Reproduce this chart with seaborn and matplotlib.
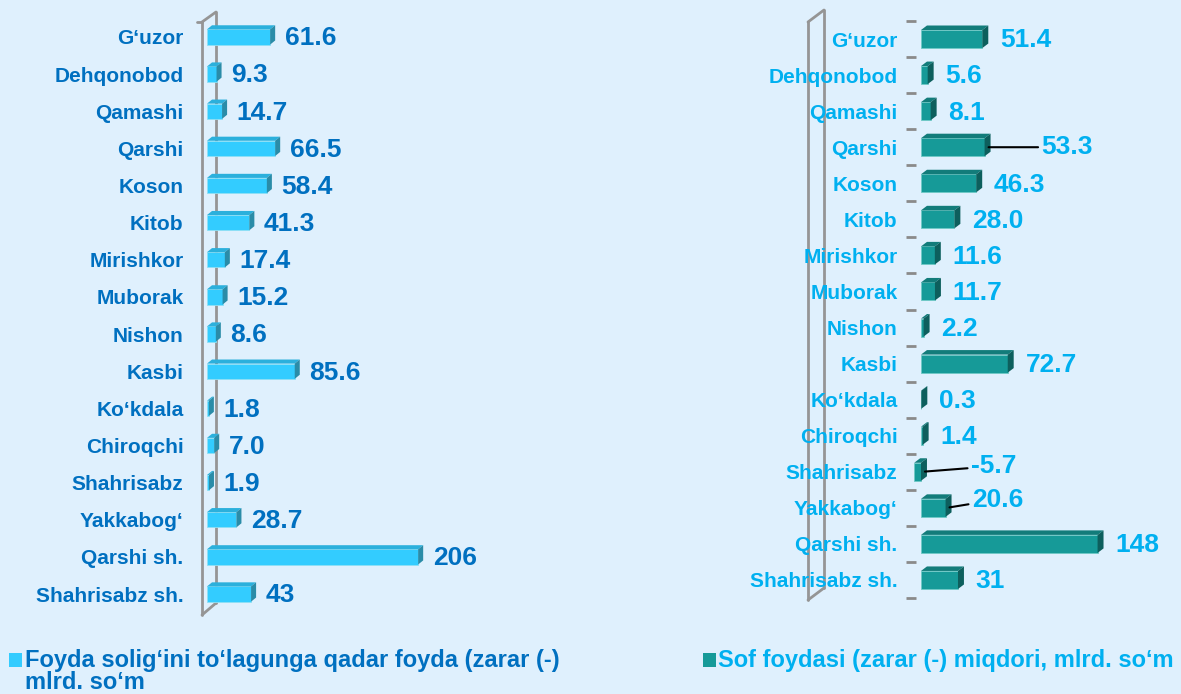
import matplotlib
matplotlib.use("Agg")
import matplotlib.pyplot as plt
from matplotlib.lines import Line2D
from matplotlib.patches import Polygon, Rectangle
import numpy as np
import pandas as pd
import seaborn as sns

districts = ["G‘uzor", "Dehqonobod", "Qamashi", "Qarshi", "Koson", "Kitob",
             "Mirishkor", "Muborak", "Nishon", "Kasbi", "Ko‘kdala", "Chiroqchi",
             "Shahrisabz", "Yakkabog‘", "Qarshi sh.", "Shahrisabz sh."]
profit_before_tax = [61.6, 9.3, 14.7, 66.5, 58.4, 41.3, 17.4, 15.2, 8.6, 85.6,
                     1.8, 7.0, 1.9, 28.7, 206, 43]
profit_before_tax_labels = ["61.6", "9.3", "14.7", "66.5", "58.4", "41.3", "17.4",
                            "15.2", "8.6", "85.6", "1.8", "7.0", "1.9", "28.7",
                            "206", "43"]
net_profit = [51.4, 5.6, 8.1, 53.3, 46.3, 28.0, 11.6, 11.7, 2.2, 72.7, 0.3, 1.4,
              -5.7, 20.6, 148, 31]
net_profit_labels = ["51.4", "5.6", "8.1", "53.3", "46.3", "28.0", "11.6", "11.7",
                     "2.2", "72.7", "0.3", "1.4", "-5.7", "20.6", "148", "31"]
legend_left = ["Foyda solig‘ini to‘lagunga qadar foyda (zarar (-)", "mlrd. so‘m"]
legend_right = "Sof foydasi (zarar (-) miqdori, mlrd. so‘m"

W, H = 1181, 694
BG = "#DFF0FD"
DARK_BLUE = "#0070C0"
CYAN = "#00B0F0"
WALL = "#959595"

sns.set_theme(style="white")
plt.rcParams["font.family"] = ["Liberation Sans", "DejaVu Sans"]
plt.rcParams["font.weight"] = "bold"

fig = plt.figure(figsize=(W / 100, H / 100), dpi=100)
fig.patch.set_facecolor(BG)


def fig_box(left, top, right, bottom):
    return [left / W, 1 - bottom / H, (right - left) / W, (bottom - top) / H]


def px(x, y):
    return x / W, 1 - y / H


def draw_panel(ax, values, labels, front, top_c, side_c, edge, txt_color, dx, dy,
               pad, gap, bar_w, leaders=None):
    df = pd.DataFrame({"district": districts, "value": values})
    sns.barplot(data=df, x="value", y="district", orient="h", color=front,
                saturation=1, width=bar_w, ax=ax, edgecolor=edge, linewidth=0.6)
    for p in list(ax.patches):
        x0, x1 = sorted([p.get_x(), p.get_x() + p.get_width()])
        yt, yb = p.get_y(), p.get_y() + p.get_height()
        ax.add_patch(Polygon([(x0, yt), (x1, yt), (x1 + dx, yt + dy), (x0 + dx, yt + dy)],
                             closed=True, facecolor=top_c, edgecolor="none", zorder=3))
        ax.add_patch(Polygon([(x1, yb), (x1, yt), (x1 + dx, yt + dy), (x1 + dx, yb + dy)],
                             closed=True, facecolor=side_c, edgecolor="none", zorder=3))
    leaders = leaders or {}
    for i, (v, lab) in enumerate(zip(values, labels)):
        end = max(v, 0) + dx
        if i in leaders:
            ox, oy = leaders[i]
            ax.annotate(lab, xy=(end - dx * 0.8, i), xytext=(ox, oy),
                        textcoords="offset points", va="center", ha="left",
                        color=txt_color, fontsize=19, fontweight="bold",
                        arrowprops=dict(arrowstyle="-", color="black", lw=1.5,
                                        shrinkA=0, shrinkB=2), zorder=5)
        else:
            ax.annotate(lab, xy=(end, i), xytext=(gap, -1), textcoords="offset points",
                        va="center", ha="left", color=txt_color, fontsize=19,
                        fontweight="bold")
    ax.set_xlabel("")
    ax.set_ylabel("")
    ax.set_xticks([])
    ax.set_facecolor("none")
    for s in ax.spines.values():
        s.set_visible(False)
    ax.tick_params(axis="y", length=0, pad=pad, labelsize=15, labelcolor=txt_color)
    for t in ax.get_yticklabels():
        t.set_fontweight("bold")
    ax.set_ylim(len(districts) - 0.5, -0.5)


def wall(x_left, x_right, y_top_l, y_top_r, y_bot_l, y_bot_r):
    segs = [((x_left, y_top_l), (x_left, y_bot_l)),
            ((x_right, y_top_r), (x_right, y_bot_r)),
            ((x_left, y_top_l), (x_right, y_top_r)),
            ((x_left, y_bot_l), (x_right, y_bot_r))]
    for a, b in segs:
        (xa, ya), (xb, yb) = px(*a), px(*b)
        fig.add_artist(Line2D([xa, xb], [ya, yb], color=WALL, lw=2,
                              transform=fig.transFigure, zorder=0))


# left panel
wall(202, 216, 22, 12, 615, 603)
(xa, ya), (xb, yb) = px(197, 22), px(202, 22)
fig.add_artist(Line2D([xa, xb], [ya, yb], color=WALL, lw=2, transform=fig.transFigure))
ax1 = fig.add_axes(fig_box(207, 18.4, 207 + 245 * 1.025, 612.6))
ax1.set_xlim(0, 245)
draw_panel(ax1, profit_before_tax, profit_before_tax_labels, "#33CCFF", "#2BB0DC",
           "#2A8CA8", "#8FE0F5", DARK_BLUE, dx=4.9, dy=-0.11, pad=17, gap=7,
           bar_w=0.41)

# right panel
wall(808, 824, 22, 10, 600, 588)
ax2 = fig.add_axes(fig_box(921 - 8 * 1.193, 21, 921 + 210 * 1.193, 598))
ax2.set_xlim(-8, 210)
draw_panel(ax2, net_profit, net_profit_labels, "#169A98", "#127C7A", "#0D5F5D",
           "#6FC9C6", CYAN, dx=5.0, dy=-0.125, pad=10, gap=8.5, bar_w=0.5,
           leaders={3: (40, 0), 12: (35, 4), 13: (18, 6)})
ax2.set_yticks(np.arange(-0.5, len(districts), 1), minor=True)
ax2.tick_params(axis="y", which="minor", direction="inout", length=7, width=2,
                color="#8A8A8A", left=True)

# legend
fig.add_artist(Rectangle(px(9, 667), 13 / W, 14 / H, transform=fig.transFigure,
                         facecolor="#33CCFF", edgecolor="none"))
fig.text(*px(25, 667), legend_left[0], ha="left", va="baseline", color=DARK_BLUE,
         fontsize=17, fontweight="bold")
fig.text(*px(25, 689), legend_left[1], ha="left", va="baseline", color=DARK_BLUE,
         fontsize=17, fontweight="bold")
fig.add_artist(Rectangle(px(703, 667), 13 / W, 14 / H, transform=fig.transFigure,
                         facecolor="#169A98", edgecolor="none"))
fig.text(*px(718, 667), legend_right, ha="left", va="baseline", color=CYAN,
         fontsize=17, fontweight="bold")

fig.savefig("out.png", dpi=100, facecolor=BG)
